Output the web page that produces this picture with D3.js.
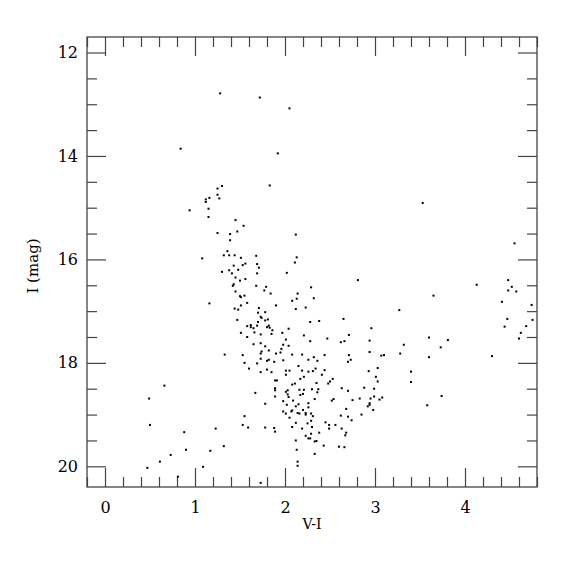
<!DOCTYPE html>
<html>
<head>
<meta charset="utf-8">
<script src="https://cdn.jsdelivr.net/npm/d3@7/dist/d3.min.js"></script>
<style>
	body { margin: 0; background: #fff; }
	text { font-family: "DejaVu Serif", serif; fill: #000; }
</style>
</head>
<body>
<div id="chart"></div>
<script>
// colour index V-I of each star
const vmi = [
	1.28, 1.72, 2.05, 0.84, 1.92, 1.83, 1.30, 1.25, 1.25, 1.27, 1.16, 1.12, 1.12, 1.15, 0.94, 1.15, 1.45, 1.54, 3.53, 1.47,
	1.25, 1.39, 2.12, 1.39, 4.55, 1.36, 1.32, 1.38, 1.44, 1.51, 1.68, 2.13, 1.08, 2.11, 1.56, 1.53, 1.43, 1.69, 1.71, 1.38,
	1.30, 1.48, 1.41, 1.69, 2.02, 1.45, 1.50, 1.56, 2.81, 4.48, 1.43, 1.42, 1.68, 1.79, 2.29, 4.13, 4.52, 1.77, 1.45, 4.48,
	4.57, 1.84, 2.14, 1.50, 1.51, 1.55, 3.65, 2.32, 2.13, 2.08, 4.41, 1.58, 1.16, 4.74, 1.51, 1.90, 2.23, 1.44, 1.48, 1.71,
	2.12, 3.27, 1.78, 1.70, 1.73, 1.74, 2.65, 4.47, 1.81, 1.47, 4.75, 1.78, 2.38, 1.70, 2.28, 1.62, 1.58, 1.62, 1.65, 1.69,
	1.82, 1.80, 1.83, 4.44, 4.68, 2.04, 2.96, 1.86, 1.51, 1.66, 4.62, 1.73, 1.85, 1.97, 2.21, 2.71, 1.58, 3.60, 4.60, 2.01,
	2.47, 3.81, 2.28, 2.62, 2.66, 2.94, 1.65, 1.73, 3.32, 1.98, 2.04, 1.78, 3.73, 1.96, 1.53, 1.33, 1.74, 1.73, 1.82, 1.90,
	1.95, 2.08, 2.19, 2.32, 2.44, 2.71, 2.94, 3.07, 3.10, 3.28, 3.60, 4.30, 1.73, 1.80, 1.82, 1.88, 1.98, 2.26, 2.36, 2.73,
	2.70, 1.55, 1.69, 1.60, 1.73, 1.80, 1.85, 2.01, 2.05, 2.01, 2.15, 2.19, 2.26, 2.31, 2.34, 2.44, 2.41, 2.93, 3.03, 3.40,
	3.01, 1.89, 1.91, 2.17, 2.21, 2.35, 2.53, 2.50, 2.48, 3.03, 3.40, 2.08, 2.11, 0.66, 1.89, 1.89, 2.03, 2.01, 2.16, 2.21,
	2.30, 2.37, 2.63, 2.70, 2.88, 2.99, 1.67, 2.03, 1.89, 2.20, 2.36, 2.17, 2.04, 2.33, 2.54, 2.52, 2.75, 2.83, 2.95, 2.99,
	3.05, 3.08, 3.74, 0.49, 2.09, 1.98, 1.78, 2.02, 2.15, 2.26, 2.94, 2.94, 2.92, 3.58, 2.68, 2.98, 2.08, 2.12, 2.20, 2.26,
	1.98, 2.01, 2.07, 2.14, 2.16, 2.23, 2.23, 2.29, 2.62, 2.70, 2.85, 2.05, 1.55, 2.31, 2.74, 2.29, 2.12, 2.45, 2.25, 2.49,
	2.56, 1.53, 0.50, 1.59, 1.78, 1.88, 2.08, 2.19, 2.30, 2.49, 2.63, 1.23, 1.89, 2.38, 2.68, 2.67, 2.29, 0.88, 2.23, 2.28,
	2.26, 2.35, 2.33, 2.12, 2.43, 2.60, 2.66, 1.32, 2.13, 0.90, 1.17, 2.33, 0.73, 2.14, 0.61, 2.14, 0.47, 1.09, 0.81, 1.73
];

// I magnitude of each star
const imag = [
	12.79, 12.87, 13.08, 13.86, 13.95, 14.57, 14.58, 14.63, 14.75, 14.82, 14.81, 14.84, 14.89, 15.02, 15.05, 15.18, 15.24, 15.35, 14.91, 15.46,
	15.49, 15.51, 15.52, 15.63, 15.69, 15.84, 15.92, 15.92, 15.92, 15.97, 15.93, 15.96, 15.98, 16.06, 16.08, 16.11, 16.12, 16.09, 16.16, 16.21,
	16.24, 16.20, 16.27, 16.27, 16.26, 16.35, 16.41, 16.38, 16.40, 16.40, 16.48, 16.51, 16.51, 16.53, 16.54, 16.49, 16.53, 16.60, 16.62, 16.60,
	16.62, 16.66, 16.66, 16.71, 16.73, 16.70, 16.70, 16.75, 16.76, 16.80, 16.82, 16.84, 16.85, 16.88, 16.89, 16.89, 16.93, 16.95, 16.97, 16.94,
	16.96, 16.98, 17.02, 17.03, 17.11, 17.13, 17.15, 17.15, 17.16, 17.17, 17.17, 17.18, 17.19, 17.21, 17.21, 17.27, 17.29, 17.31, 17.33, 17.28,
	17.28, 17.31, 17.32, 17.30, 17.29, 17.34, 17.33, 17.37, 17.42, 17.41, 17.42, 17.45, 17.44, 17.42, 17.47, 17.46, 17.50, 17.51, 17.53, 17.55,
	17.53, 17.56, 17.58, 17.60, 17.58, 17.57, 17.64, 17.62, 17.65, 17.65, 17.67, 17.68, 17.70, 17.73, 17.85, 17.84, 17.78, 17.82, 17.76, 17.82,
	17.80, 17.84, 17.84, 17.89, 17.85, 17.85, 17.79, 17.86, 17.85, 17.82, 17.89, 17.87, 17.92, 17.96, 17.94, 17.98, 17.95, 17.94, 17.96, 17.94,
	17.98, 18.00, 18.01, 18.11, 18.18, 18.13, 18.18, 18.15, 18.15, 18.23, 18.06, 18.15, 18.17, 18.16, 18.11, 18.14, 18.23, 18.16, 18.10, 18.17,
	18.27, 18.34, 18.34, 18.31, 18.27, 18.39, 18.31, 18.36, 18.40, 18.36, 18.37, 18.42, 18.40, 18.44, 18.49, 18.53, 18.53, 18.56, 18.52, 18.52,
	18.51, 18.51, 18.49, 18.54, 18.48, 18.50, 18.58, 18.61, 18.65, 18.60, 18.57, 18.62, 18.66, 18.70, 18.70, 18.73, 18.72, 18.69, 18.69, 18.65,
	18.71, 18.67, 18.64, 18.69, 18.73, 18.74, 18.79, 18.81, 18.80, 18.78, 18.78, 18.81, 18.84, 18.82, 18.89, 18.91, 18.92, 18.84, 18.91, 18.86,
	18.94, 18.98, 18.94, 18.97, 18.98, 18.97, 19.00, 18.98, 19.02, 19.04, 19.00, 19.06, 19.03, 19.03, 19.11, 19.12, 19.16, 19.15, 19.17, 19.20,
	19.20, 19.20, 19.20, 19.25, 19.25, 19.26, 19.24, 19.27, 19.24, 19.27, 19.27, 19.27, 19.33, 19.35, 19.35, 19.40, 19.37, 19.34, 19.41, 19.46,
	19.46, 19.51, 19.52, 19.50, 19.60, 19.62, 19.63, 19.61, 19.68, 19.68, 19.70, 19.76, 19.78, 19.91, 19.91, 19.99, 20.03, 20.01, 20.20, 20.32
];

const xTickValues = [0, 1, 2, 3, 4];
const yTickValues = [12, 14, 16, 18, 20];
const xLabel = 'V-I';
const yLabel = 'I (mag)';

const margin = {left: 87, right: 38, top: 37, bottom: 88};
const width = 450;
const height = 450;
const majorLen = 19;
const minorLen = 10;
const axisColor = '#444';

const x = d3.scaleLinear().domain([-0.2, 4.8]).range([0, width]);
const y = d3.scaleLinear().domain([11.7, 20.4]).range([0, height]);

const xMinor = d3.range(-0.2, 4.81, 0.2).map(v => +v.toFixed(1)).filter(v => !xTickValues.includes(v));
const yMinor = d3.range(12, 20.41, 0.5).filter(v => !yTickValues.includes(v));

const svg = d3.select('#chart').append('svg')
	.attr('width', 575)
	.attr('height', 575)
	.append('g')
	.attr('transform', 'translate(' + margin.left + ',' + margin.top + ')');

// ticks point inward on all four sides
function addAxis (axis, tx, ty, labels) {
	const g = svg.append('g')
		.attr('transform', 'translate(' + tx + ',' + ty + ')')
		.call(axis);
	g.select('.domain').remove();
	g.selectAll('line').attr('stroke', axisColor).attr('stroke-width', 1.2);
	if (!labels) g.selectAll('text').remove();
	return g;
}

const bottom = addAxis(d3.axisBottom(x).tickValues(xTickValues).tickSize(-majorLen).tickPadding(15).tickFormat(d3.format('d')), 0, height, true);
addAxis(d3.axisBottom(x).tickValues(xMinor).tickSize(-minorLen), 0, height, false);
addAxis(d3.axisTop(x).tickValues(xTickValues).tickSize(-majorLen), 0, 0, false);
addAxis(d3.axisTop(x).tickValues(xMinor).tickSize(-minorLen), 0, 0, false);

const left = addAxis(d3.axisLeft(y).tickValues(yTickValues).tickSize(-majorLen).tickPadding(9).tickFormat(d3.format('d')), 0, 0, true);
addAxis(d3.axisLeft(y).tickValues(yMinor).tickSize(-minorLen), 0, 0, false);
addAxis(d3.axisRight(y).tickValues(yTickValues).tickSize(-majorLen), width, 0, false);
addAxis(d3.axisRight(y).tickValues(yMinor).tickSize(-minorLen), width, 0, false);

bottom.selectAll('text').style('font-size', '16px').attr('fill', '#000');
left.selectAll('text').style('font-size', '16px').attr('fill', '#000');

svg.append('rect')
	.attr('width', width)
	.attr('height', height)
	.attr('fill', 'none')
	.attr('stroke', axisColor)
	.attr('stroke-width', 1.3);

svg.append('text')
	.attr('x', width / 2)
	.attr('y', height + 42)
	.attr('text-anchor', 'middle')
	.style('font-size', '14px')
	.text(xLabel);

svg.append('text')
	.attr('transform', 'translate(-49.5,' + (height / 2 + 4) + ') rotate(-90)')
	.attr('text-anchor', 'middle')
	.style('font-size', '15px')
	.text(yLabel);

svg.append('g')
	.selectAll('rect')
	.data(d3.range(vmi.length))
	.enter().append('rect')
	.attr('x', i => x(vmi[i]) - 1)
	.attr('y', i => y(imag[i]) - 1)
	.attr('width', 2)
	.attr('height', 2)
	.attr('fill', '#000');
</script>
</body>
</html>
